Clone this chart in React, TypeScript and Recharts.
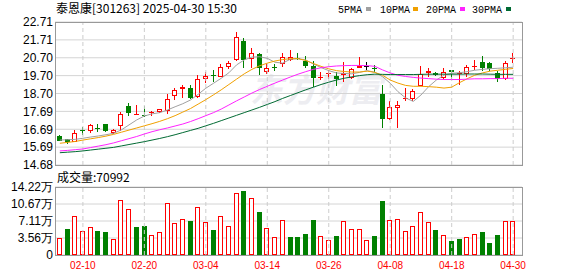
import React from 'react';
import { ComposedChart, Bar, Line, XAxis, YAxis, CartesianGrid, ReferenceLine } from 'recharts';

const dates = [
  '02-05','02-06','02-07','02-10','02-11','02-12','02-13','02-14','02-17','02-18',
  '02-19','02-20','02-21','02-24','02-25','02-26','02-27','02-28','03-03','03-04',
  '03-05','03-06','03-07','03-10','03-11','03-12','03-13','03-14','03-17','03-18',
  '03-19','03-20','03-21','03-24','03-25','03-26','03-27','03-28','03-31','04-01',
  '04-02','04-03','04-07','04-08','04-09','04-10','04-11','04-14','04-15','04-16',
  '04-17','04-18','04-21','04-22','04-23','04-24','04-25','04-28','04-29','04-30',
];

const opens = [
  16.31,16.14,15.99,16.65,16.57,16.76,16.98,16.46,16.87,17.99,
  17.54,17.51,17.62,17.66,17.73,18.54,18.96,19.02,18.50,19.49,
  19.73,19.64,20.17,20.58,21.66,20.62,20.90,19.92,20.16,20.35,
  20.59,20.68,20.54,20.24,19.62,19.82,19.70,19.72,19.58,20.13,
  20.26,20.13,18.67,17.25,17.86,18.36,18.41,19.12,19.82,19.83,
  19.55,19.99,19.82,19.77,20.22,20.45,20.39,19.85,19.49,20.64,
];
const highs = [
  16.34,16.16,16.65,16.83,16.98,16.97,17.00,16.70,17.67,18.14,
  18.03,17.99,17.73,17.85,18.67,18.99,19.17,19.17,19.73,19.93,
  20.02,20.35,20.53,22.13,21.79,21.23,20.95,20.34,20.34,20.95,
  21.14,20.95,20.80,20.50,19.92,20.02,19.90,20.48,20.10,20.76,
  20.45,20.30,19.17,18.27,18.27,18.99,18.93,20.24,20.13,19.88,
  20.13,20.00,19.98,20.30,20.60,20.79,20.45,19.98,20.52,20.95,
];
const lows = [
  16.02,15.84,15.96,16.36,16.49,16.52,16.52,16.44,16.61,17.45,
  17.52,17.39,17.43,17.58,17.54,18.31,18.43,18.40,18.45,19.27,
  19.36,19.60,20.05,20.52,20.11,20.11,19.73,19.80,19.96,20.20,
  20.50,20.60,20.10,19.08,19.47,19.49,19.13,19.36,19.50,20.10,
  20.00,19.90,16.74,17.20,16.74,18.29,18.30,19.12,19.60,19.70,
  19.46,19.50,19.17,19.60,20.00,19.98,19.98,19.36,19.45,20.39,
];
const closes = [
  16.05,15.99,16.50,16.58,16.91,16.70,16.61,16.66,17.54,17.58,
  17.55,17.48,17.64,17.81,18.37,18.87,19.04,18.46,19.51,19.68,
  19.66,20.18,20.39,21.85,20.58,20.95,20.11,20.10,20.13,20.76,
  20.73,20.66,20.26,19.58,19.64,19.84,19.51,19.87,20.05,20.22,
  20.26,20.11,17.25,17.95,18.03,18.42,18.84,19.81,19.94,19.75,
  19.93,19.92,19.84,20.17,20.25,20.14,20.07,19.51,20.39,20.68,
];

const ma5 = [
  16.08,16.10,16.12,16.18,16.25,16.31,16.38,16.46,16.65,16.93,
  17.21,17.43,17.55,17.62,17.77,17.95,18.12,18.33,18.65,18.99,
  19.27,19.55,19.86,20.30,20.58,20.74,20.76,20.67,20.45,20.40,
  20.62,20.65,20.58,20.35,20.15,19.98,19.85,19.82,19.80,19.88,
  19.98,19.89,19.64,19.27,18.80,18.45,18.25,18.61,19.08,19.45,
  19.73,19.83,19.86,19.92,20.00,20.05,20.09,20.11,20.14,20.17,
];
const ma10 = [
  15.90,15.95,16.00,16.08,16.15,16.22,16.30,16.40,16.52,16.64,
  16.76,16.88,17.00,17.13,17.28,17.45,17.65,17.85,18.10,18.35,
  18.62,18.90,19.20,19.50,19.80,20.05,20.25,20.40,20.52,20.60,
  20.65,20.65,20.55,20.38,20.22,20.08,19.98,19.93,19.90,19.90,
  19.95,19.88,19.72,19.45,19.28,19.15,19.10,19.10,19.08,19.05,
  19.00,19.05,19.30,19.52,19.72,19.85,19.95,20.00,20.05,20.10,
];
const ma20 = [
  15.47,15.50,15.54,15.58,15.66,15.74,15.82,15.92,16.04,16.16,
  16.28,16.42,16.55,16.66,16.76,16.87,16.98,17.12,17.28,17.45,
  17.62,17.82,18.05,18.28,18.50,18.72,18.92,19.10,19.28,19.45,
  19.62,19.78,19.92,20.05,20.14,20.20,20.24,20.26,20.27,20.27,
  20.26,20.22,20.02,19.85,19.72,19.65,19.60,19.56,19.53,19.50,
  19.48,19.48,19.48,19.50,19.52,19.52,19.53,19.53,19.55,19.55,
];
const ma30 = [
  15.37,15.40,15.43,15.47,15.52,15.57,15.62,15.67,15.75,15.83,
  15.91,15.99,16.08,16.17,16.27,16.38,16.50,16.62,16.74,16.88,
  17.02,17.17,17.32,17.47,17.62,17.77,17.92,18.08,18.24,18.42,
  18.58,18.74,18.90,19.05,19.20,19.33,19.45,19.55,19.63,19.70,
  19.75,19.78,19.77,19.76,19.76,19.76,19.76,19.77,19.78,19.78,
  19.78,19.78,19.78,19.79,19.79,19.79,19.78,19.77,19.77,19.77,
];

const volumes = [
  34900,54400,80900,49500,57800,50200,48100,32800,114300,96200,
  58500,60600,41100,47400,108000,66200,74600,71100,99600,68300,
  52300,80900,59900,129000,133800,118500,89900,56500,37600,72500,
  37600,37600,43900,73200,39700,30700,39700,70400,54400,54400,
  30700,39700,112900,72500,75300,49500,59900,89200,68300,51600,
  41100,29300,33500,37600,43200,48100,25100,41800,70400,70992,
];
const volumeUp = [
  1,0,1,1,1,0,0,1,1,1,
  0,0,1,1,1,1,1,0,1,1,
  0,1,1,1,0,1,0,1,1,1,
  0,0,0,0,1,1,0,1,1,1,
  1,0,0,1,1,1,1,1,1,0,
  1,0,0,1,1,0,0,0,1,1,
];

const dateTicks = ['02-10','02-20','03-04','03-14','03-26','04-08','04-18','04-30'];
const priceMin = 14.68;
const priceMax = 22.71;
const priceTickLabels = ['14.68','15.69','16.69','17.69','18.70','19.70','20.70','21.71','22.71'];
const volMax = 142200;
const volTickLabels = ['0','3.56万','7.11万','10.67万','14.22万'];
const titleText = '泰恩康[301263] 2025-04-30 15:30';
const volumeTitle = '成交量:70992';
const watermarkText = '东方财富';
const legendItems = [
  { name: '5PMA', color: '#a0a0a0' },
  { name: '10PMA', color: '#f0a000' },
  { name: '20PMA', color: '#ff22ff' },
  { name: '30PMA', color: '#006a33' },
];

const RED = '#ff0000';
const GREEN = '#008000';
const BLACK = '#000000';

const data = dates.map((d, i) => ({
  date: d,
  open: opens[i],
  high: highs[i],
  low: lows[i],
  close: closes[i],
  range: [lows[i], highs[i]],
  vol: volumes[i],
  up: volumeUp[i],
  ma5: ma5[i],
  ma10: ma10[i],
  ma20: ma20[i],
  ma30: ma30[i],
}));

const priceTicks = priceTickLabels.map((_, k) => priceMin + (k * (priceMax - priceMin)) / (priceTickLabels.length - 1));
const volTicks = volTickLabels.map((_, k) => (k * volMax) / (volTickLabels.length - 1));

const Candle = (props: any) => {
  const { x, y, width, height, payload } = props;
  if (!payload) return null;
  const { open, close, high, low } = payload;
  const yTop = Math.min(y, y + height);
  const h = Math.abs(height);
  const k = high - low > 0 ? h / (high - low) : 0;
  const py = (v: number) => yTop + (high - v) * k;
  const color = close > open ? RED : close < open ? GREEN : BLACK;
  const bx = Math.round(x + width / 2 - 2.5);
  const cx = bx + 2.5;
  const top = Math.round(py(Math.max(open, close)));
  const bot = Math.round(py(Math.min(open, close)));
  const wTop = Math.round(yTop);
  const wBot = Math.round(yTop + h);
  if (bot - top < 2) {
    return (
      <g>
        <line x1={cx} x2={cx} y1={wTop} y2={wBot} stroke={color} strokeWidth={1} />
        <line x1={bx} x2={bx + 5} y1={top + 0.5} y2={top + 0.5} stroke={color} strokeWidth={1} />
      </g>
    );
  }
  if (color === RED) {
    return (
      <g>
        <line x1={cx} x2={cx} y1={wTop} y2={top} stroke={RED} strokeWidth={1} />
        <line x1={cx} x2={cx} y1={bot} y2={wBot} stroke={RED} strokeWidth={1} />
        <rect x={bx + 0.5} y={top + 0.5} width={4} height={bot - top - 1} fill="#ffffff" stroke={RED} strokeWidth={1} />
      </g>
    );
  }
  return (
    <g>
      <line x1={cx} x2={cx} y1={wTop} y2={wBot} stroke={color} strokeWidth={1} />
      <rect x={bx} y={top} width={5} height={bot - top} fill={color} />
    </g>
  );
};

const VolBar = (props: any) => {
  const { x, y, width, height, payload } = props;
  if (!payload) return null;
  const yTop = Math.round(Math.min(y, y + height));
  const yBot = Math.round(Math.max(y, y + height));
  const bx = Math.round(x + width / 2 - 2.5);
  if (payload.up) {
    return <rect x={bx + 0.5} y={yTop + 0.5} width={4} height={Math.max(yBot - yTop - 1, 0)} fill="#ffffff" stroke={RED} strokeWidth={1} />;
  }
  return <rect x={bx} y={yTop} width={5} height={yBot - yTop} fill={GREEN} />;
};

const axisFont = { fontFamily: 'Liberation Sans, Arial, sans-serif', fontSize: 12, fill: '#000' };

export default function App() {
  return (
    <div style={{ position: 'absolute', left: 0, top: 0, width: 578, height: 276, background: '#fff', overflow: 'hidden' }}>
      <svg width={578} height={276} style={{ position: 'absolute', left: 0, top: 0 }}>
        <text x={250} y={102} fontFamily="Noto Sans CJK SC" fontSize={33} fontWeight={700} fontStyle="italic" fill="#ededf1">{watermarkText}</text>
      </svg>
      <div style={{ position: 'absolute', left: 0, top: 0 }}>
        <ComposedChart width={578} height={173} data={data} margin={{ top: 22, right: 56, left: 0, bottom: 8 }}>
          <CartesianGrid horizontal={true} vertical={false} stroke="#d4d4d4" />
          <XAxis dataKey="date" hide padding={{ left: 1, right: 5 }} />
          <YAxis
            domain={[priceMin, priceMax]}
            ticks={priceTicks}
            interval={0}
            width={55}
            axisLine={false}
            tickLine={false}
            tickSize={0}
            tickMargin={2}
            tick={axisFont}
            tickFormatter={(_v: any, i: number) => priceTickLabels[i]}
            allowDataOverflow
          />
          {dateTicks.map((d) => (
            <ReferenceLine key={d} x={d} stroke="#cdcdcd" strokeDasharray="4 3" />
          ))}
          <Bar dataKey="range" barSize={5} shape={<Candle />} isAnimationActive={false} />
          <Line dataKey="ma5" stroke="#a0a0a0" strokeWidth={1} dot={false} isAnimationActive={false} />
          <Line dataKey="ma10" stroke="#f0a000" strokeWidth={1} dot={false} isAnimationActive={false} />
          <Line dataKey="ma20" stroke="#ff22ff" strokeWidth={1} dot={false} isAnimationActive={false} />
          <Line dataKey="ma30" stroke="#006a33" strokeWidth={1} dot={false} isAnimationActive={false} />
        </ComposedChart>
      </div>
      <div style={{ position: 'absolute', left: 0, top: 165 }}>
        <ComposedChart width={578} height={111} data={data} margin={{ top: 22, right: 56, left: 0, bottom: 0 }}>
          <CartesianGrid horizontal={true} vertical={false} stroke="#d4d4d4" />
          <XAxis
            dataKey="date"
            padding={{ left: 1, right: 5 }}
            ticks={dateTicks}
            interval={0}
            height={21}
            axisLine={false}
            tickLine={false}
            tickSize={5}
            tickMargin={2}
            tick={{ fontFamily: 'Liberation Sans, Arial, sans-serif', fontSize: 10, fill: RED }}
          />
          <YAxis
            domain={[0, volMax]}
            ticks={volTicks}
            interval={0}
            width={55}
            axisLine={false}
            tickLine={false}
            tickSize={0}
            tickMargin={2}
            tick={axisFont}
            tickFormatter={(_v: any, i: number) => volTickLabels[i]}
          />
          {dateTicks.map((d) => (
            <ReferenceLine key={d} x={d} stroke="#cdcdcd" strokeDasharray="4 3" />
          ))}
          <Bar dataKey="vol" barSize={5} shape={<VolBar />} isAnimationActive={false} />
        </ComposedChart>
      </div>
      <svg width={578} height={276} style={{ position: 'absolute', left: 0, top: 0, pointerEvents: 'none' }}>
        <rect x={55.5} y={22.5} width={467} height={143} fill="none" stroke="#999" strokeWidth={1} />
        <rect x={55.5} y={187.5} width={467} height={68} fill="none" stroke="#999" strokeWidth={1} />
        <text x={56} y={13} fontFamily="Noto Sans CJK SC, Liberation Sans" fontSize={12} fill="#000">{titleText}</text>
        {legendItems.map((it, i) => {
          const xs = [338, 380, 426, 472];
          const sq = [366, 413, 460, 506];
          return (
            <g key={it.name}>
              <text x={xs[i]} y={13} fontFamily="Liberation Mono, monospace" fontSize={10} fill="#000">{it.name}</text>
              <rect x={sq[i]} y={7} width={5} height={4} fill={it.color} />
            </g>
          );
        })}
        <text x={57} y={182} fontFamily="Noto Sans CJK SC, Liberation Sans" fontSize={12} fill="#000">{volumeTitle}</text>
      </svg>
    </div>
  );
}
